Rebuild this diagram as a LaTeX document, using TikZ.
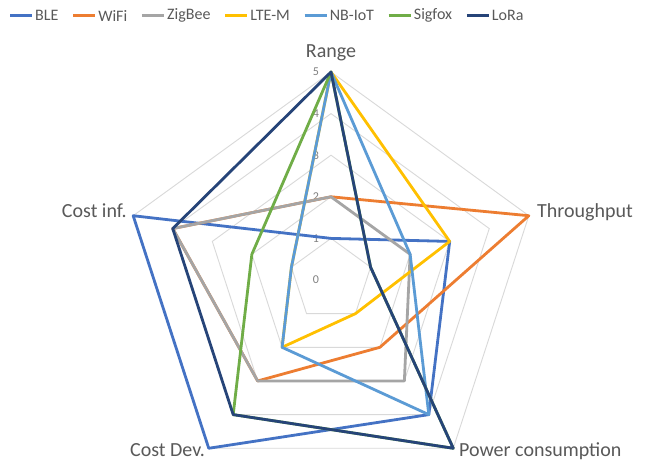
\documentclass[tikz,border=0pt]{standalone}
\usepackage{fontspec}
\setmainfont{Carlito}
\usepackage{xcolor}
\usetikzlibrary{positioning}
\definecolor{BleBlue}{HTML}{4472C4}
\definecolor{WifiOrange}{HTML}{ED7D31}
\definecolor{ZigGray}{HTML}{A5A5A5}
\definecolor{LteYellow}{HTML}{FFC000}
\definecolor{NbBlue}{HTML}{5B9BD5}
\definecolor{SigGreen}{HTML}{70AD47}
\definecolor{LoraNavy}{HTML}{264478}
\definecolor{GridGray}{HTML}{D9D9D9}
\definecolor{LabelGray}{HTML}{595959}
\definecolor{TickGray}{HTML}{7F7F7F}
\newcommand{\rstep}{41.6}
% one closed series: Range, Throughput, Power consumption, Cost Dev., Cost inf.
\newcommand{\radarseries}[6]{%
  \draw[series, draw=#1] (90:{#2*\rstep}) -- (18:{#3*\rstep}) -- (-54:{#4*\rstep})
    -- (-126:{#5*\rstep}) -- (162:{#6*\rstep}) -- cycle;}

\begin{document}
\begin{tikzpicture}[x=1pt, y=1pt,
  gridline/.style={draw=GridGray, line width=0.9pt},
  series/.style={line width=2.8pt, line join=round},
  axislabel/.style={font=\fontsize{20}{22}\selectfont, text=LabelGray, inner sep=0pt},
  ticklabel/.style={font=\fontsize{12}{14}\selectfont, text=TickGray, inner sep=0pt},
  legtext/.style={font=\fontsize{16}{18}\selectfont, text=LabelGray, inner sep=0pt},
  legline/.style={line width=2.8pt}]
\useasboundingbox[fill=white] (0,0) rectangle (657,463);
\coordinate (c) at (331,183);

% grid
\begin{scope}[shift={(c)}]
\foreach \r in {1,...,5}
  \draw[gridline] (90:{\r*\rstep}) -- (18:{\r*\rstep}) -- (-54:{\r*\rstep})
    -- (-126:{\r*\rstep}) -- (162:{\r*\rstep}) -- cycle;
\foreach \r in {0,...,5}
  \node[ticklabel] (tick\r) at (-15,{\r*\rstep}) {\r};

% series
\radarseries{BleBlue}{1}{3}{4}{5}{5}
\radarseries{WifiOrange}{2}{5}{2}{3}{4}
\radarseries{ZigGray}{2}{2}{3}{3}{4}
\radarseries{LteYellow}{5}{3}{1}{2}{1}
\radarseries{NbBlue}{5}{2}{4}{2}{1}
\radarseries{SigGreen}{5}{1}{5}{4}{2}
\radarseries{LoraNavy}{5}{1}{5}{4}{4}
\end{scope}

% axis labels
\node[axislabel, anchor=base] (lRange) at (331,405) {Range};
\node[axislabel, anchor=base west] (lThroughput) at (537,245) {Throughput};
\node[axislabel, anchor=base west] (lPower) at (459,6) {Power consumption};
\node[axislabel, anchor=base east] (lCostDev) at (205,6) {Cost Dev.};
\node[axislabel, anchor=base east] (lCostInf) at (127,245) {Cost inf.};

% legend
\node[legtext, anchor=base west] (gBLE) at (35,442) {BLE};
\node[legtext, right=39.5pt of gBLE] (gWiFi) {WiFi};
\node[legtext, right=39.5pt of gWiFi] (gZigBee) {ZigBee};
\node[legtext, right=39.5pt of gZigBee] (gLTE) {LTE-M};
\node[legtext, right=39.5pt of gLTE] (gNB) {NB-IoT};
\node[legtext, right=39.5pt of gNB] (gSigfox) {Sigfox};
\node[legtext, right=39.5pt of gSigfox] (gLoRa) {LoRa};
\draw[legline, BleBlue] ([xshift=-25pt]gBLE.west) -- ([xshift=-3pt]gBLE.west);
\draw[legline, WifiOrange] ([xshift=-25pt]gWiFi.west) -- ([xshift=-3pt]gWiFi.west);
\draw[legline, ZigGray] ([xshift=-25pt]gZigBee.west) -- ([xshift=-3pt]gZigBee.west);
\draw[legline, LteYellow] ([xshift=-25pt]gLTE.west) -- ([xshift=-3pt]gLTE.west);
\draw[legline, NbBlue] ([xshift=-25pt]gNB.west) -- ([xshift=-3pt]gNB.west);
\draw[legline, SigGreen] ([xshift=-25pt]gSigfox.west) -- ([xshift=-3pt]gSigfox.west);
\draw[legline, LoraNavy] ([xshift=-25pt]gLoRa.west) -- ([xshift=-3pt]gLoRa.west);
\end{tikzpicture}
\end{document}
